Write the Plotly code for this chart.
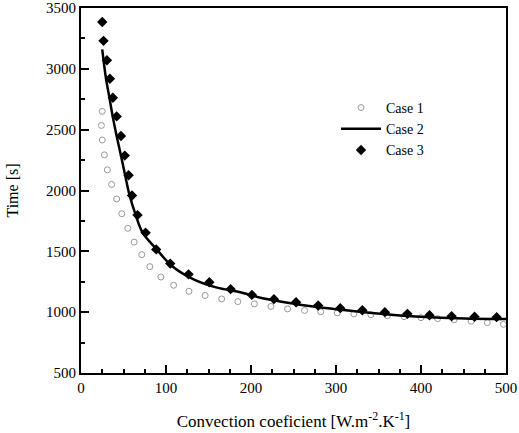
import plotly.graph_objects as go

# Case 1 - open grey circles
case1_x = [25, 24, 25, 27.5, 31, 36, 42, 48, 55, 62.5, 71.5, 81, 94, 109, 127, 146,
           165.5, 184.5, 204, 223.5, 243, 263, 282, 301.5, 321, 341, 360.5, 380,
           400, 419.5, 439, 459, 478, 497]
case1_y = [2650, 2535, 2415, 2293, 2170, 2050, 1930, 1809, 1689, 1576, 1473, 1374,
           1289, 1221, 1172, 1137, 1109, 1087, 1068, 1047, 1027, 1014, 1003, 994,
           986, 979, 971, 963, 955, 947, 938, 926, 914, 900]

# Case 2 - solid line
case2_x = [25, 26.5, 29.5, 33.5, 37.5, 42, 47, 52, 57, 64, 72.5, 89, 107, 132.5,
           160, 185, 215, 254, 293.5, 333, 372, 412, 451, 500]
case2_y = [3160, 3071, 2916, 2760, 2601, 2445, 2287, 2123, 1965, 1806, 1653, 1516,
           1380, 1270, 1202, 1168, 1112, 1066, 1030, 1000, 975, 959, 948, 943]

# Case 3 - filled black diamonds
case3_x = [25, 26.5, 30.5, 34, 37.5, 42, 47, 51.5, 56, 60, 66.5, 76, 88.5, 105,
           126.5, 151, 176, 201, 227, 253, 279, 305, 331, 357.5, 384, 410, 436,
           463, 489]
case3_y = [3385, 3230, 3071, 2918, 2762, 2609, 2448, 2287, 2125, 1959, 1798, 1653,
           1516, 1399, 1311, 1246, 1189, 1142, 1107, 1082, 1055, 1033, 1016, 1000,
           986, 975, 967, 962, 959]

font = "Liberation Serif, Times New Roman, serif"

fig = go.Figure()
fig.add_trace(go.Scatter(
    x=case1_x, y=case1_y, mode="markers", name="Case 1",
    marker=dict(symbol="circle-open", size=6, color="#999999", line=dict(width=1))
))
fig.add_trace(go.Scatter(
    x=case2_x, y=case2_y, mode="lines", name="Case 2",
    line=dict(color="black", width=2.5, shape="spline")
))
fig.add_trace(go.Scatter(
    x=case3_x, y=case3_y, mode="markers", name="Case 3",
    marker=dict(symbol="diamond", size=8, color="black")
))

axis_common = dict(
    showline=True, linecolor="black", linewidth=2, mirror=True,
    ticks="inside", ticklen=8, tickwidth=2, tickcolor="black",
    showgrid=False, zeroline=False, automargin=False,
    tickfont=dict(family=font, size=15, color="black"),
)

fig.update_xaxes(
    range=[0, 500], dtick=100,
    minor=dict(dtick=25, ticks="inside", ticklen=4, tickwidth=1.5, tickcolor="black"),
    title=dict(text="Convection coeficient [W.m<sup>-2</sup>.K<sup>-1</sup>]",
               font=dict(family=font, size=17, color="black"), standoff=20),
    **axis_common
)
fig.update_yaxes(
    range=[500, 3500], dtick=500,
    minor=dict(dtick=250, ticks="inside", ticklen=4, tickwidth=1.5, tickcolor="black"),
    title=dict(text="Time [s]", font=dict(family=font, size=16, color="black"), standoff=23),
    **axis_common
)

fig.update_layout(
    width=519, height=433,
    margin=dict(l=81, r=13, t=8, b=60),
    plot_bgcolor="white", paper_bgcolor="white",
    font=dict(family=font, color="black", size=15),
    legend=dict(x=0.60, y=0.77, xanchor="left", yanchor="top",
                bgcolor="rgba(0,0,0,0)", font=dict(family=font, size=14),
                itemwidth=40, tracegroupgap=0),
)

# drop the page's default body margin so the figure sits at the window's corner
fig.write_html("out.html", config={"displayModeBar": False},
               post_script="document.body.style.margin='0';")
